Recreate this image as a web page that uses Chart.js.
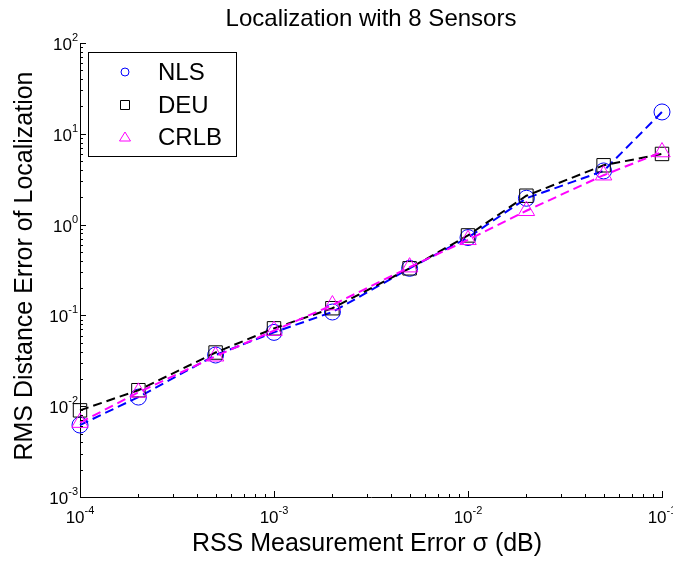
<!DOCTYPE html>
<html>
<head>
<meta charset="utf-8">
<script src="https://cdn.jsdelivr.net/npm/chart.js@4/dist/chart.umd.min.js"></script>
<style>
  html, body { margin: 0; padding: 0; background: #fff; }
  #wrap { width: 673px; height: 561px; }
</style>
</head>
<body>
<div id="wrap"><canvas id="chart" width="673" height="561"></canvas></div>
<script>
// Datos
const sigma = [1e-4, 2e-4, 5e-4, 1e-3, 2e-3, 5e-3, 1e-2, 2e-2, 5e-2, 1e-1];
const nlsValues  = [0.0062, 0.0126, 0.0366, 0.065, 0.109, 0.33, 0.72, 1.95, 3.9, 17.4];
const deuValues  = [0.0090, 0.0150, 0.0390, 0.072, 0.120, 0.33, 0.76, 2.08, 4.5, 6.0];
const crlbValues = [0.0066, 0.0142, 0.0355, 0.068, 0.130, 0.34, 0.68, 1.42, 3.5, 6.3];
const xDecades = [-4, -3, -2, -1];
const yDecades = [-3, -2, -1, 0, 1, 2];
const legendLabels = ['NLS', 'DEU', 'CRLB'];

const FONT = '"Liberation Sans", Arial, sans-serif';

function toPoints(vals) {
    return sigma.map((s, i) => ({ x: s, y: vals[i] }));
}

function serie(label, vals, color, style, radius, order) {
    return {
        label,
        data: toPoints(vals),
        borderColor: color,
        backgroundColor: 'rgba(0,0,0,0)',
        borderWidth: 2,
        borderDash: [9, 5],
        pointStyle: style,
        pointRadius: radius,
        pointBorderWidth: 1,
        pointBorderColor: color,
        pointBackgroundColor: 'rgba(0,0,0,0)',
        tension: 0,
        clip: false,
        order
    };
}

// dibuja "10" con exponente
function drawPow(ctx, exp, x, y, align) {
    ctx.font = '17px ' + FONT;
    const wb = ctx.measureText('10').width;
    ctx.font = '11px ' + FONT;
    const ex = String(exp);
    const we = ctx.measureText(ex).width;
    const total = wb + we;
    const left = align === 'center' ? x - total / 2 : x - total;
    ctx.textAlign = 'left';
    ctx.textBaseline = 'alphabetic';
    ctx.font = '17px ' + FONT;
    ctx.fillText('10', left, y);
    ctx.font = '11px ' + FONT;
    ctx.fillText(ex, left + wb, y - 9);
}

const matlabAxes = {
    id: 'matlabAxes',
    afterDraw(chart) {
        const ctx = chart.ctx;
        const xs = chart.scales.x;
        const ys = chart.scales.y;
        const area = chart.chartArea;
        ctx.save();
        ctx.strokeStyle = '#000';
        ctx.fillStyle = '#000';
        ctx.lineWidth = 1;

        // ticks hacia adentro
        ctx.beginPath();
        xDecades.forEach(d => {
            for (let k = 1; k <= 9; k++) {
                const v = k * Math.pow(10, d);
                if (v > 1e-1 * 1.0001) break;
                const px = Math.round(xs.getPixelForValue(v)) + 0.5;
                const len = k === 1 ? 6 : 3;
                ctx.moveTo(px, area.bottom);
                ctx.lineTo(px, area.bottom - len);
            }
        });
        yDecades.forEach(d => {
            for (let k = 1; k <= 9; k++) {
                const v = k * Math.pow(10, d);
                if (v > 1e2 * 1.0001) break;
                const py = Math.round(ys.getPixelForValue(v)) + 0.5;
                const len = k === 1 ? 6 : 3;
                ctx.moveTo(area.left, py);
                ctx.lineTo(area.left + len, py);
            }
        });
        ctx.stroke();

        // etiquetas
        xDecades.forEach(d => {
            drawPow(ctx, d, xs.getPixelForValue(Math.pow(10, d)), 523, 'center');
        });
        yDecades.forEach(d => {
            drawPow(ctx, d, 78, ys.getPixelForValue(Math.pow(10, d)) + 7, 'right');
        });

        // titulos
        ctx.textAlign = 'center';
        ctx.textBaseline = 'middle';
        ctx.font = '24px ' + FONT;
        ctx.fillText('Localization with 8 Sensors', 371, 19);
        ctx.font = '25px ' + FONT;
        ctx.fillText('RSS Measurement Error \u03c3 (dB)', 367, 544);
        ctx.save();
        ctx.translate(25, 266);
        ctx.rotate(-Math.PI / 2);
        ctx.fillText('RMS Distance Error of Localization', 0, 0);
        ctx.restore();

        // leyenda
        const lx = 88.5, ly = 52.5, lw = 148, lh = 104;
        ctx.fillStyle = '#fff';
        ctx.fillRect(lx, ly, lw, lh);
        ctx.strokeStyle = '#000';
        ctx.strokeRect(lx, ly, lw, lh);
        const colors = ['#0000ff', '#000000', '#ff00ff'];
        const rows = [72, 105, 137];
        rows.forEach((ry, i) => {
            ctx.strokeStyle = colors[i];
            ctx.beginPath();
            if (i === 0) {
                ctx.arc(125, ry, 4, 0, Math.PI * 2);
            } else if (i === 1) {
                ctx.rect(120.5, ry - 4.5, 9, 9);
            } else {
                ctx.moveTo(125, ry - 5);
                ctx.lineTo(130.5, ry + 4);
                ctx.lineTo(119.5, ry + 4);
                ctx.closePath();
            }
            ctx.stroke();
            ctx.fillStyle = '#000';
            ctx.textAlign = 'left';
            ctx.font = '24px ' + FONT;
            ctx.fillText(legendLabels[i], 158, ry + 1);
        });
        ctx.restore();
    }
};

new Chart(document.getElementById('chart'), {
    type: 'line',
    data: {
        datasets: [
            serie('NLS', nlsValues, '#0000ff', 'circle', 8, 3),
            serie('DEU', deuValues, '#000000', 'rect', 9.5, 2),
            serie('CRLB', crlbValues, '#ff00ff', 'triangle', 9.5, 1)
        ]
    },
    options: {
        responsive: false,
        animation: false,
        layout: { padding: { top: 43, right: 11, left: 0, bottom: 0 } },
        plugins: {
            legend: { display: false },
            title: { display: false },
            tooltip: { enabled: false }
        },
        scales: {
            x: {
                type: 'logarithmic',
                min: 1e-4,
                max: 1e-1,
                ticks: { display: false },
                grid: { display: false },
                border: { display: true, color: '#000', width: 1 },
                afterFit: s => { s.height = 64; }
            },
            y: {
                type: 'logarithmic',
                min: 1e-3,
                max: 1e2,
                ticks: { display: false },
                grid: { display: false },
                border: { display: true, color: '#000', width: 1 },
                afterFit: s => { s.width = 80; }
            }
        }
    },
    plugins: [matlabAxes]
});
</script>
</body>
</html>
